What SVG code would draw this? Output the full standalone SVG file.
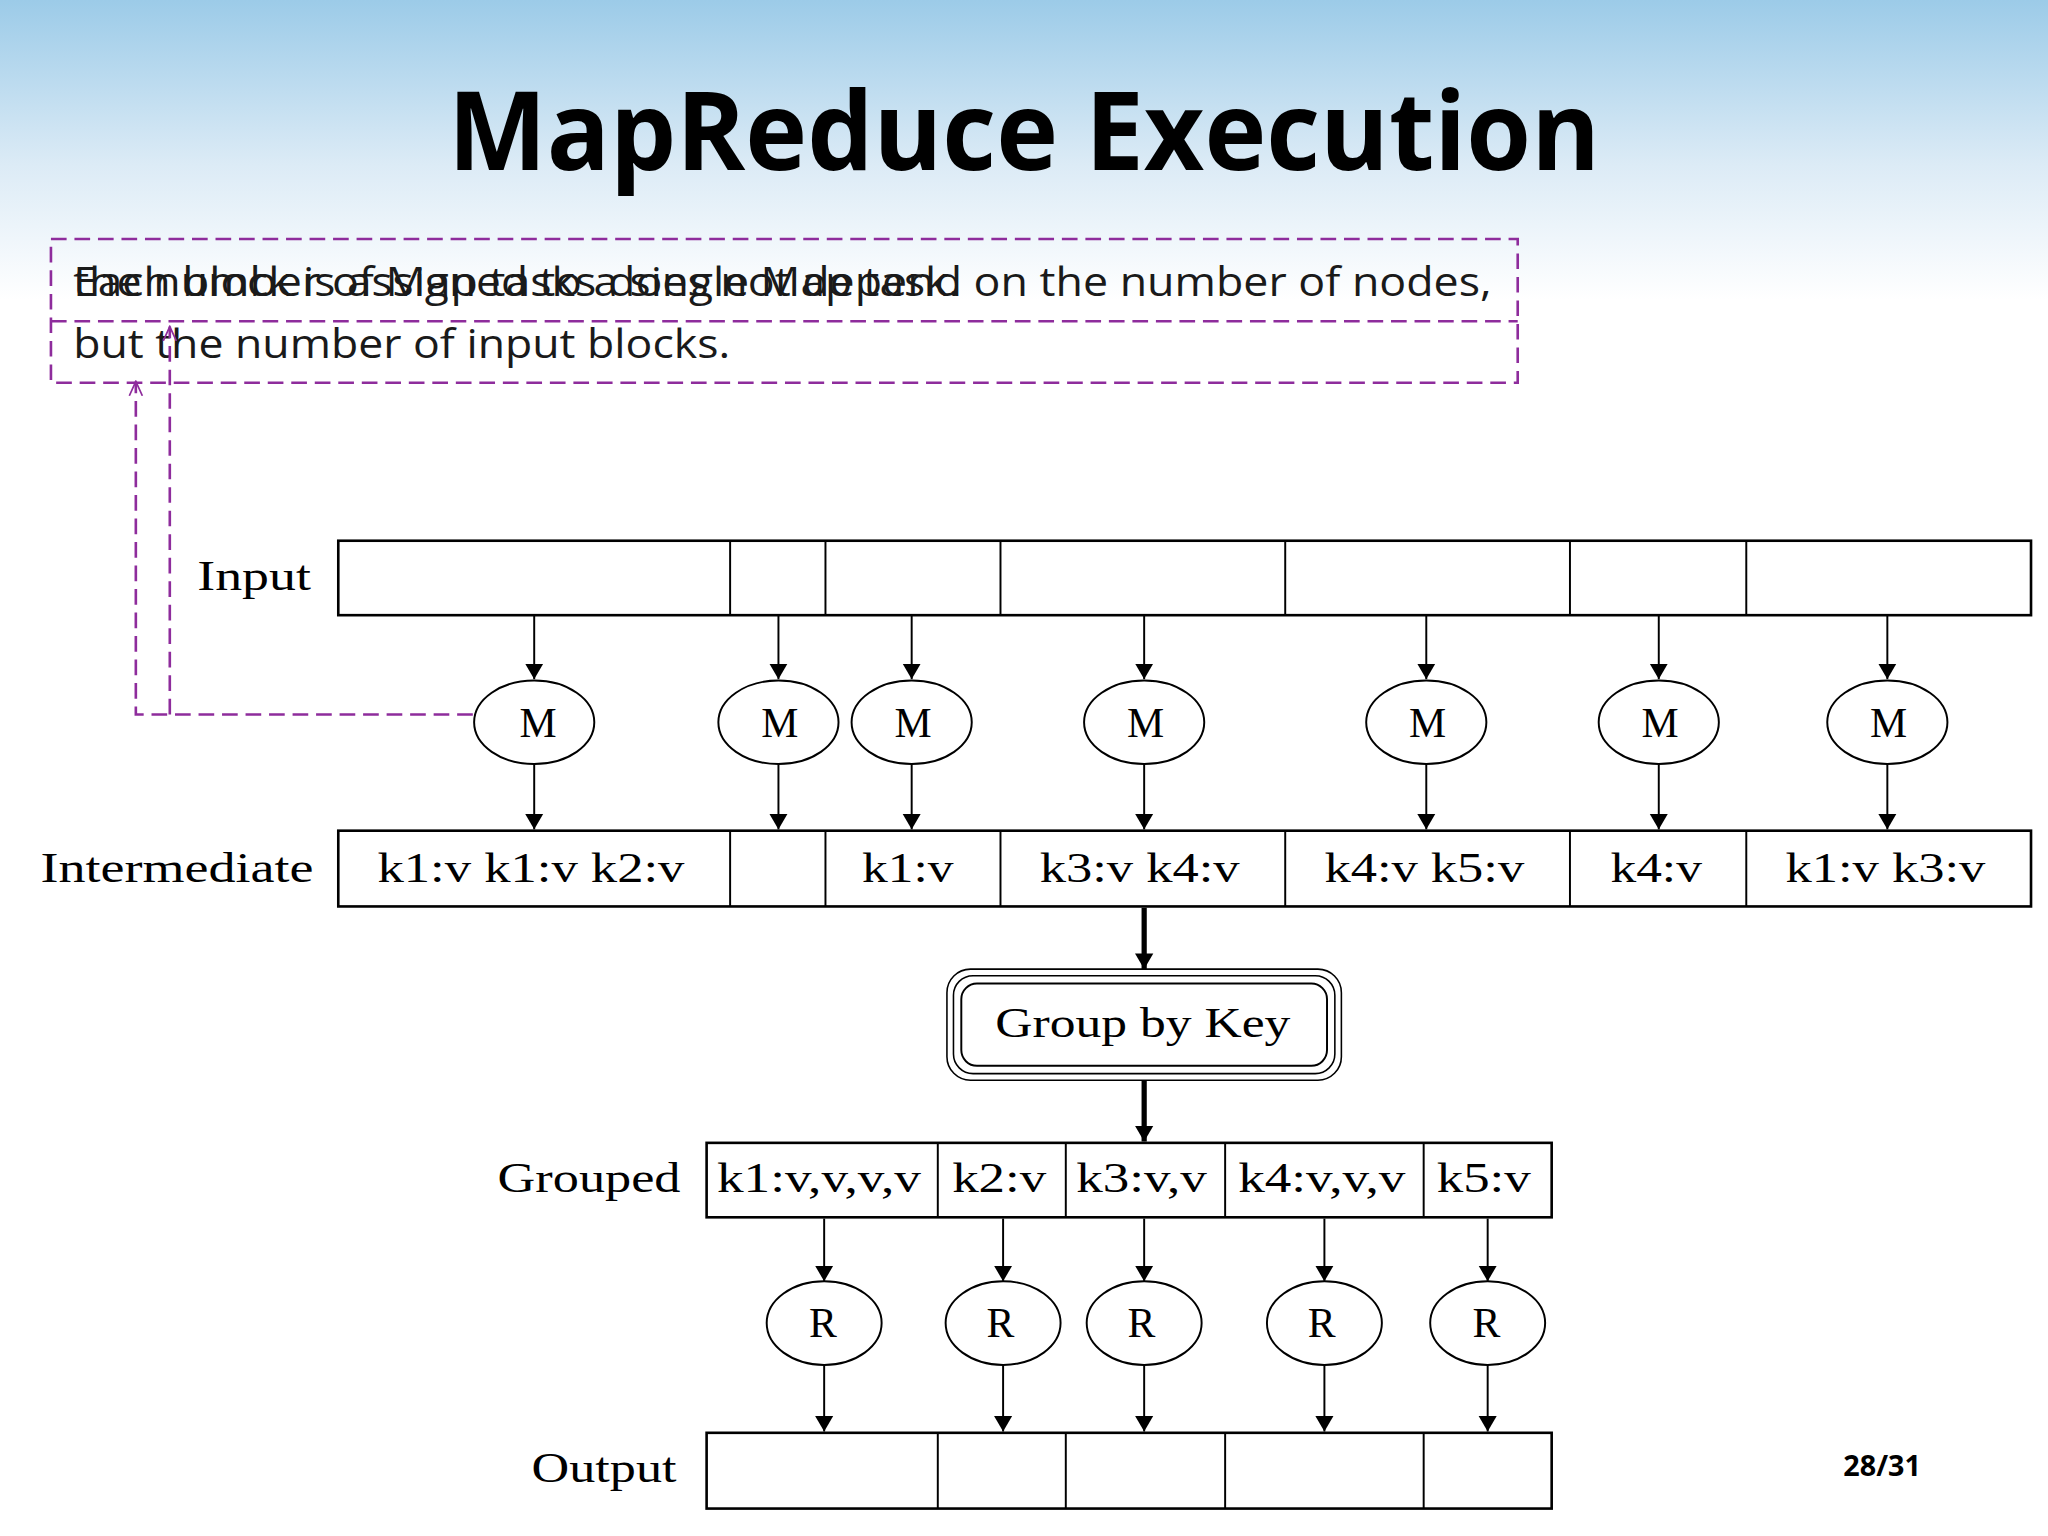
<svg xmlns="http://www.w3.org/2000/svg" width="2048" height="1536" viewBox="0 0 2048 1536">
<defs>
<linearGradient id="sky" x1="0" y1="0" x2="0" y2="1">
<stop offset="0" stop-color="#9ccbe8"/><stop offset="0.55" stop-color="#dcebf6"/><stop offset="1" stop-color="#ffffff"/>
</linearGradient>
<marker id="ah" viewBox="0 0 12 18" refX="12" refY="9" markerWidth="12" markerHeight="18" markerUnits="userSpaceOnUse" orient="auto"><path d="M0,2 L12,9 L0,16 Z" fill="#000"/></marker>
<marker id="ahb" viewBox="0 0 12 18" refX="12" refY="9" markerWidth="12" markerHeight="18" markerUnits="userSpaceOnUse" orient="auto"><path d="M0,2 L12,9 L0,16 Z" fill="#000"/></marker>
<marker id="open" viewBox="0 0 12 12" refX="11" refY="6" markerWidth="12" markerHeight="12" markerUnits="userSpaceOnUse" orient="auto"><path d="M0,1 L11,6 L0,11" fill="none" stroke="#8e2c9c" stroke-width="1.3"/></marker>
<style>
.cell{fill:#fff;stroke:#000;stroke-width:2}
.div{stroke:#000;stroke-width:1.5}
.ser{font-family:"Liberation Serif",serif;font-size:32px;fill:#000}
.node{fill:#fff;stroke:#000;stroke-width:1.5}
.ar{stroke:#000;stroke-width:1.5;fill:none;marker-end:url(#ah)}
.arb{stroke:#000;stroke-width:4;fill:none;marker-end:url(#ahb)}
.dash{stroke:#8e2c9c;stroke-width:2;fill:none;stroke-dasharray:12,6}
.note{font-family:"Open Sans","Noto Sans",sans-serif;font-size:31px;fill:#1a1a1a}
</style>
</defs>
<rect width="2048" height="1536" fill="#fff"/>
<rect width="2048" height="300" fill="url(#sky)"/>
<g transform="scale(1.30612)">
<text x="784" y="130" text-anchor="middle" font-family="'Open Sans','Noto Sans',sans-serif" font-weight="bold" font-size="84" textLength="882" lengthAdjust="spacingAndGlyphs" fill="#000">MapReduce Execution</text>
<g id="note">
<rect x="39" y="183" width="1123" height="110" class="dash"/>
<line x1="39" y1="246" x2="1162" y2="246" class="dash"/>
<text x="56" y="227" class="note" textLength="679" lengthAdjust="spacingAndGlyphs">Each block is assigned to a single Map task.</text>
<text x="56" y="227" class="note" textLength="1086" lengthAdjust="spacingAndGlyphs">the number of Map tasks does not depend on the number of nodes,</text>
<text x="56" y="274" class="note" textLength="503" lengthAdjust="spacingAndGlyphs">but the number of input blocks.</text>
</g>
<g id="connectors">
<path d="M362,547 H104 V292" class="dash" marker-end="url(#open)"/>
<path d="M130,547 V250" class="dash" marker-end="url(#open)"/>
<line x1="409" y1="471" x2="409" y2="520" class="ar"/><line x1="596" y1="471" x2="596" y2="520" class="ar"/><line x1="698" y1="471" x2="698" y2="520" class="ar"/><line x1="876" y1="471" x2="876" y2="520" class="ar"/><line x1="1092" y1="471" x2="1092" y2="520" class="ar"/><line x1="1270" y1="471" x2="1270" y2="520" class="ar"/><line x1="1445" y1="471" x2="1445" y2="520" class="ar"/>
<line x1="409" y1="585" x2="409" y2="635" class="ar"/><line x1="596" y1="585" x2="596" y2="635" class="ar"/><line x1="698" y1="585" x2="698" y2="635" class="ar"/><line x1="876" y1="585" x2="876" y2="635" class="ar"/><line x1="1092" y1="585" x2="1092" y2="635" class="ar"/><line x1="1270" y1="585" x2="1270" y2="635" class="ar"/><line x1="1445" y1="585" x2="1445" y2="635" class="ar"/>
<line x1="876" y1="695" x2="876" y2="742" class="arb"/>
<line x1="876" y1="827" x2="876" y2="874" class="arb"/>
<line x1="631" y1="933" x2="631" y2="981" class="ar"/><line x1="768" y1="933" x2="768" y2="981" class="ar"/><line x1="876" y1="933" x2="876" y2="981" class="ar"/><line x1="1014" y1="933" x2="1014" y2="981" class="ar"/><line x1="1139" y1="933" x2="1139" y2="981" class="ar"/>
<line x1="631" y1="1045" x2="631" y2="1096" class="ar"/><line x1="768" y1="1045" x2="768" y2="1096" class="ar"/><line x1="876" y1="1045" x2="876" y2="1096" class="ar"/><line x1="1014" y1="1045" x2="1014" y2="1096" class="ar"/><line x1="1139" y1="1045" x2="1139" y2="1096" class="ar"/>
</g>
<g id="input">
<text x="151" y="452" class="ser" textLength="87" lengthAdjust="spacingAndGlyphs">Input</text>
<rect x="259" y="414" width="1296" height="57" class="cell"/>
<path d="M559,414V471M632,414V471M766,414V471M984,414V471M1202,414V471M1337,414V471" class="div"/>
</g>
<g id="maps" class="ser" text-anchor="middle">
<g id="m1"><ellipse cx="409" cy="553" rx="46" ry="32" class="node"/><text x="412" y="564">M</text></g>
<g id="m2"><ellipse cx="596" cy="553" rx="46" ry="32" class="node"/><text x="597" y="564">M</text></g>
<g id="m3"><ellipse cx="698" cy="553" rx="46" ry="32" class="node"/><text x="699" y="564">M</text></g>
<g id="m4"><ellipse cx="876" cy="553" rx="46" ry="32" class="node"/><text x="877" y="564">M</text></g>
<g id="m5"><ellipse cx="1092" cy="553" rx="46" ry="32" class="node"/><text x="1093" y="564">M</text></g>
<g id="m6"><ellipse cx="1270" cy="553" rx="46" ry="32" class="node"/><text x="1271" y="564">M</text></g>
<g id="m7"><ellipse cx="1445" cy="553" rx="46" ry="32" class="node"/><text x="1446" y="564">M</text></g>
</g>
<g id="intermediate" class="ser">
<text x="31" y="675" textLength="209" lengthAdjust="spacingAndGlyphs">Intermediate</text>
<rect x="259" y="636" width="1296" height="58" class="cell"/>
<path d="M559,636V694M632,636V694M766,636V694M984,636V694M1202,636V694M1337,636V694" class="div"/>
<g>
<text x="289" y="675" textLength="235" lengthAdjust="spacingAndGlyphs">k1:v k1:v k2:v</text><text x="660" y="675" textLength="70" lengthAdjust="spacingAndGlyphs">k1:v</text><text x="796" y="675" textLength="153" lengthAdjust="spacingAndGlyphs">k3:v k4:v</text><text x="1014" y="675" textLength="153" lengthAdjust="spacingAndGlyphs">k4:v k5:v</text><text x="1233" y="675" textLength="70" lengthAdjust="spacingAndGlyphs">k4:v</text><text x="1367" y="675" textLength="153" lengthAdjust="spacingAndGlyphs">k1:v k3:v</text>
</g>
</g>
<g id="groupbykey">
<rect x="725" y="742" width="302" height="85" rx="18" fill="#fff" stroke="#000" stroke-width="1.2"/>
<rect x="730" y="747" width="292" height="75" rx="15" fill="none" stroke="#000" stroke-width="1.2"/>
<rect x="736" y="753" width="280" height="63" rx="12" fill="none" stroke="#000" stroke-width="1.5"/>
<text x="762" y="794" class="ser" textLength="226" lengthAdjust="spacingAndGlyphs">Group by Key</text>
</g>
<g id="grouped" class="ser">
<text x="381" y="913" textLength="140" lengthAdjust="spacingAndGlyphs">Grouped</text>
<rect x="541" y="875" width="647" height="57" class="cell"/>
<path d="M718,875V932M816,875V932M938,875V932M1090,875V932" class="div"/>
<g><text x="549" y="913" textLength="156" lengthAdjust="spacingAndGlyphs">k1:v,v,v,v</text><text x="729" y="913" textLength="72" lengthAdjust="spacingAndGlyphs">k2:v</text><text x="824" y="913" textLength="100" lengthAdjust="spacingAndGlyphs">k3:v,v</text><text x="948" y="913" textLength="128" lengthAdjust="spacingAndGlyphs">k4:v,v,v</text><text x="1100" y="913" textLength="72" lengthAdjust="spacingAndGlyphs">k5:v</text></g>
</g>
<g id="reduces" class="ser" text-anchor="middle">
<g id="r1"><ellipse cx="631" cy="1013" rx="44" ry="32" class="node"/><text x="630" y="1024">R</text></g>
<g id="r2"><ellipse cx="768" cy="1013" rx="44" ry="32" class="node"/><text x="766" y="1024">R</text></g>
<g id="r3"><ellipse cx="876" cy="1013" rx="44" ry="32" class="node"/><text x="874" y="1024">R</text></g>
<g id="r4"><ellipse cx="1014" cy="1013" rx="44" ry="32" class="node"/><text x="1012" y="1024">R</text></g>
<g id="r5"><ellipse cx="1139" cy="1013" rx="44" ry="32" class="node"/><text x="1138" y="1024">R</text></g>
</g>
<g id="output" class="ser">
<text x="407" y="1135" textLength="111" lengthAdjust="spacingAndGlyphs">Output</text>
<rect x="541" y="1097" width="647" height="58" class="cell"/>
<path d="M718,1097V1155M816,1097V1155M938,1097V1155M1090,1097V1155" class="div"/>
</g>
<text x="1441" y="1130" text-anchor="middle" font-family="'Open Sans','Noto Sans',sans-serif" font-weight="bold" font-size="22" fill="#000">28/31</text>
</g>
</svg>
